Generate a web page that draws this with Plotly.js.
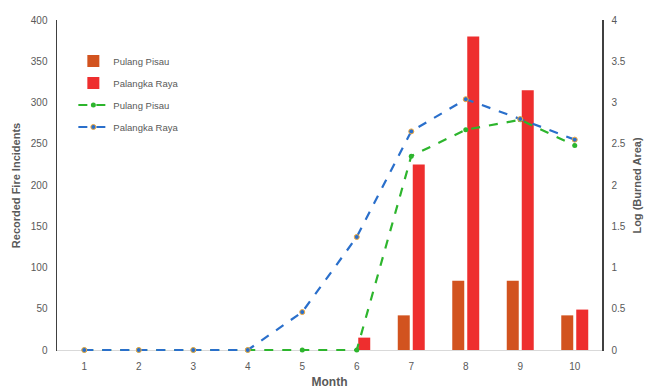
<!DOCTYPE html>
<html>
<head>
<meta charset="utf-8">
<script src="https://cdn.plot.ly/plotly-3.0.1.min.js"></script>
<style>html,body{margin:0;padding:0;background:#fff;}#chart{width:649px;height:389px;}</style>
</head>
<body>
<div id="chart"></div>
<script>
const months = [1, 2, 3, 4, 5, 6, 7, 8, 9, 10];
const firePulangPisau = [0, 0, 0, 0, 0, 0, 42, 84, 84, 42];
const firePalangkaRaya = [0, 0, 0, 0, 0, 15, 225, 380, 315, 49];
const logAreaPulangPisau = [0, 0, 0, 0, 0, 0, 2.35, 2.67, 2.79, 2.48];
const logAreaPalangkaRaya = [0, 0, 0, 0, 0.46, 1.37, 2.65, 3.04, 2.80, 2.55];

const gray = '#595959';
const font = {family: 'Liberation Sans, Arial, sans-serif', size: 10, color: gray};

const traces = [
  {type: 'bar', name: 'Pulang Pisau', legendgroup: 'a', x: months, y: firePulangPisau, marker: {color: '#D2531F'}, yaxis: 'y'},
  {type: 'bar', name: 'Palangka Raya', legendgroup: 'b', x: months, y: firePalangkaRaya, marker: {color: '#EE2E2E'}, yaxis: 'y'},
  {type: 'scatter', mode: 'lines+markers', name: 'Pulang Pisau', legendgroup: 'c', x: months, y: logAreaPulangPisau, yaxis: 'y2', cliponaxis: false,
   line: {color: '#2DB52D', width: 2.2, dash: 'dash'}, marker: {color: '#2DB52D', size: 5, symbol: 'circle'}},
  {type: 'scatter', mode: 'lines+markers', name: 'Palangka Raya', legendgroup: 'd', x: months, y: logAreaPalangkaRaya, yaxis: 'y2', cliponaxis: false,
   line: {color: '#2A6FCB', width: 2.2, dash: 'dash'}, marker: {color: '#2A6FCB', size: 5, symbol: 'circle', line: {color: '#F2A93B', width: 1}}}
];

const layout = {
  width: 649, height: 389,
  margin: {l: 57, r: 47, t: 20, b: 38},
  paper_bgcolor: '#fff', plot_bgcolor: '#fff',
  font: font,
  barmode: 'group', bargap: 0.45, bargroupgap: 0.2,
  showlegend: true,
  legend: {x: 0.03, y: 0.92, xanchor: 'left', yanchor: 'top', bgcolor: 'rgba(0,0,0,0)', font: {family: font.family, size: 9.5, color: gray}, tracegroupgap: 3, traceorder: 'grouped'},
  xaxis: {
    range: [0.5, 10.5], tickvals: months, ticktext: months.map(String), showgrid: false, zeroline: false,
    showline: false, ticks: '', tickfont: font, ticklabelstandoff: 8,
    title: {text: '<b>Month</b>', font: {family: font.family, size: 12, color: gray}, standoff: 8}
  },
  yaxis: {
    range: [-1.2, 400], tickvals: [0, 50, 100, 150, 200, 250, 300, 350, 400], showgrid: false, zeroline: true, zerolinecolor: '#d9d9d9', zerolinewidth: 1,
    showline: true, linecolor: '#404040', linewidth: 1.5,
    ticks: '', tickfont: font, ticklabelstandoff: 6,
    title: {text: '<b>Recorded Fire Incidents</b>', font: {family: font.family, size: 11, color: gray}, standoff: 8}
  },
  yaxis2: {
    range: [-0.012, 4], tickvals: [0, 0.5, 1, 1.5, 2, 2.5, 3, 3.5, 4], overlaying: 'y', side: 'right', showgrid: false, zeroline: false, showline: true,
    linecolor: '#404040', linewidth: 1.5, ticks: '', tickfont: font, ticklabelstandoff: 6,
    title: {text: '<b>Log (Burned Area)</b>', font: {family: font.family, size: 11, color: gray}, standoff: 8}
  }
};

Plotly.newPlot('chart', traces, layout, {displayModeBar: false, staticPlot: true});
</script>
</body>
</html>
